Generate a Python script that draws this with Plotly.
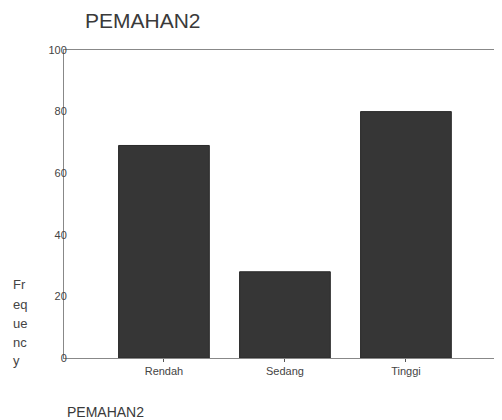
import plotly.graph_objects as go

categories = ["Rendah", "Sedang", "Tinggi"]
frequency = [69, 28, 80]
y_ticks = [0, 20, 40, 60, 80, 100]
y_label_lines = ["Fr", "eq", "ue", "nc", "y"]

# the page body adds an 8px offset and the figure renders 486px wide;
# layout values below are in figure pixels
W, H = 486, 420
L, R, T, B = 56, 0, 42, 70
PW, PH = W - L - R, H - T - B
CAT_PX = 121  # pixels between category centres
X0 = -0.826


def px(sx):  # screen x -> paper x
    return (sx - 8 - L) / PW


def py(sy):  # screen y -> paper y
    return (H - B - (sy - 8)) / PH


fig = go.Figure()
fig.add_trace(go.Bar(
    x=categories, y=frequency,
    marker=dict(color="#363636", line=dict(color="#2a2a2a", width=1)),
    width=0.75,
))

fig.update_layout(
    width=W, height=H,
    margin=dict(l=L, r=R, t=T, b=B),
    paper_bgcolor="white", plot_bgcolor="white",
    showlegend=False,
    font=dict(family="Liberation Sans, Arial, sans-serif", color="#333333"),
    title=dict(text="PEMAHAN2", x=(85 - 8) / W, xanchor="left",
               y=1 - (21 - 8) / H, yanchor="middle",
               font=dict(size=21, color="#3a3a3a")),
)
fig.update_xaxes(
    range=[X0, X0 + PW / CAT_PX],
    showline=True, linecolor="#888888", linewidth=1, mirror=True,
    ticks="outside", ticklen=3, tickcolor="#555555",
    tickfont=dict(size=11, color="#444444"),
    showgrid=False,
)
fig.update_yaxes(
    range=[0, 100],
    tickvals=y_ticks,
    showline=True, linecolor="#888888", linewidth=1, mirror=True,
    ticks="", ticklabelstandoff=-6,
    tickfont=dict(size=11, color="#444444"),
    showgrid=False, zeroline=False,
)
for line, sy in zip(y_label_lines, [284, 304, 323, 342, 360]):
    fig.add_annotation(
        text=line, xref="paper", yref="paper",
        x=px(11), y=py(sy), xanchor="left", yanchor="middle",
        showarrow=False, align="left",
        font=dict(size=13, color="#444444"),
    )
fig.add_annotation(
    text="PEMAHAN2", xref="paper", yref="paper",
    x=px(65), y=py(412), xanchor="left", yanchor="middle",
    showarrow=False,
    font=dict(size=14, color="#3a3a3a"),
)

fig.write_html("out.html")
